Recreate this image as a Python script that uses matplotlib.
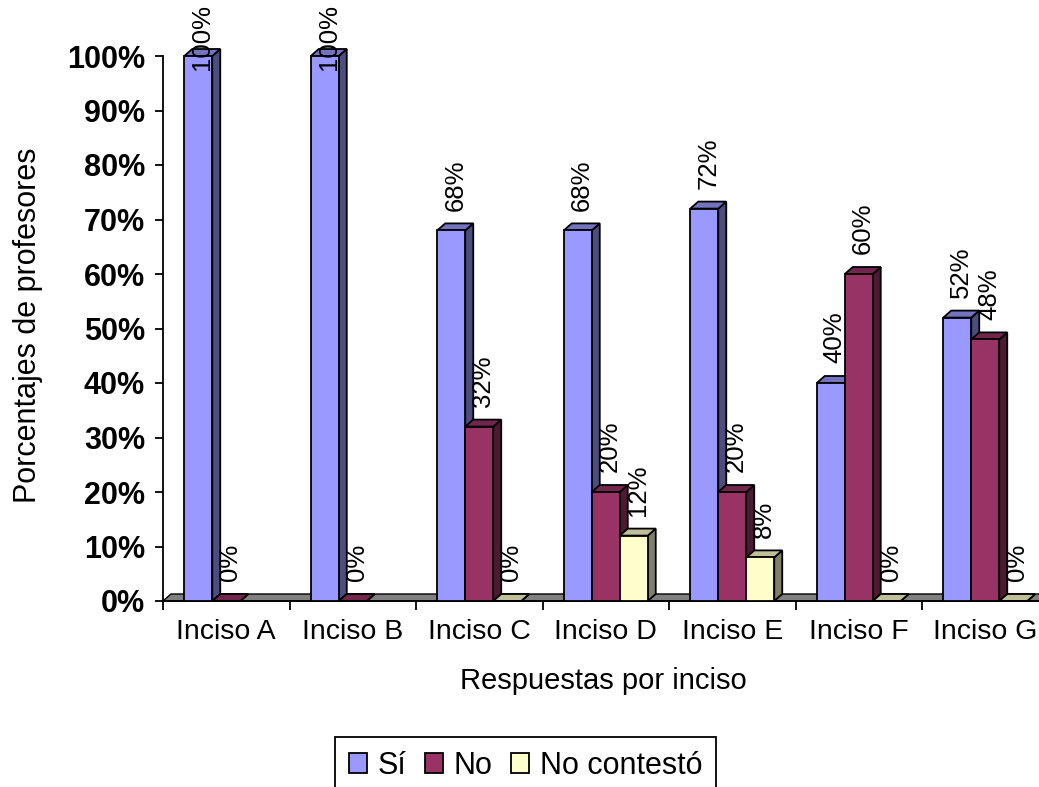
import numpy as np
import matplotlib
matplotlib.use('Agg')
import matplotlib.pyplot as plt
from matplotlib.patches import Polygon, Patch

plt.rcParams['font.family'] = ['Liberation Sans', 'DejaVu Sans']

categories = ['Inciso A', 'Inciso B', 'Inciso C', 'Inciso D', 'Inciso E', 'Inciso F', 'Inciso G']
series_names = ['Sí', 'No', 'No contestó']
si = [100, 100, 68, 68, 72, 40, 52]
no = [0, 0, 32, 20, 20, 60, 48]
no_contesto = [None, None, 0, 12, 8, 0, 0]

front_colors = ['#9999FF', '#993366', '#FFFFCC']


def shade(hex_color, f):
    c = np.array(matplotlib.colors.to_rgb(hex_color)) * f
    return tuple(c)


W, H = 1039, 787
fig = plt.figure(figsize=(W / 100, H / 100), dpi=100)
ax_l, ax_b, ax_w, ax_h = 163, 186, 885.5, 545
ax = fig.add_axes([ax_l / W, ax_b / H, ax_w / W, ax_h / H])
n = len(categories)
ax.set_xlim(0, n)
ax.set_ylim(0, 100)

# depth of the 3d effect, in pixels, turned into data units
dx = 8 / (ax_w / n)
dy = 7 / (ax_h / 100)
bw = 0.2213
x0 = (1 - 3 * bw) / 2

# floor
floor = Polygon([(0, 0), (n, 0), (n + dx, dy), (dx, dy)], closed=True,
                facecolor='#808080', edgecolor='black', lw=1.0, clip_on=False, zorder=1)
ax.add_patch(floor)


def bar3d(x, v, color):
    lw = 1.3
    side = [(x + bw, 0), (x + bw + dx, dy), (x + bw + dx, v + dy), (x + bw, v)]
    top = [(x, v), (x + bw, v), (x + bw + dx, v + dy), (x + dx, v + dy)]
    front = [(x, 0), (x + bw, 0), (x + bw, v), (x, v)]
    for pts, f in ((side, 0.5), (top, 0.75), (front, 1.0)):
        ax.add_patch(Polygon(pts, closed=True, facecolor=shade(color, f),
                             edgecolor='black', lw=lw, joinstyle='miter',
                             clip_on=False, zorder=3))


all_series = [si, no, no_contesto]
for i in range(n):
    for j, vals in enumerate(all_series):
        v = vals[i]
        if v is None:
            continue
        x = i + x0 + j * bw
        bar3d(x, v, front_colors[j])
        ypos = min(v + 3.6, 97.5)
        ax.text(x + bw / 2 + dx / 2, ypos, f'{v}%', rotation=90, ha='center', va='bottom',
                fontsize=18.5, clip_on=False, zorder=5)

for s in ['top', 'right']:
    ax.spines[s].set_visible(False)
ax.spines['left'].set_linewidth(1.3)
ax.spines['bottom'].set_linewidth(1.3)
ax.spines['bottom'].set_zorder(2)

yt = list(range(0, 101, 10))
ax.set_yticks(yt)
ax.set_yticklabels([f'{t}%' for t in yt], fontsize=22, fontweight='bold')
ax.tick_params(axis='y', direction='out', length=6, width=1.3, pad=7)

ax.set_xticks(np.arange(n + 1))
ax.set_xticklabels([])
ax.tick_params(axis='x', which='major', direction='out', length=6.5, width=1.3)
ax.set_xticks(np.arange(n) + 0.5, minor=True)
ax.set_xticklabels(categories, minor=True, fontsize=20.5)
ax.tick_params(axis='x', which='minor', length=0, pad=13)

fig.text(28 / W, 1 - 325 / H, 'Porcentajes de profesores', rotation=90,
         ha='center', va='center', fontsize=22)
fig.text(603 / W, 1 - 681 / H, 'Respuestas por inciso', ha='center', va='center', fontsize=21)

handles = [Patch(facecolor=c, edgecolor='black', lw=1.3) for c in front_colors]
leg = fig.legend(handles, series_names, loc='upper center',
                 bbox_to_anchor=(525.5 / W, 1 - 737 / H), ncol=3, fontsize=22,
                 frameon=True, fancybox=False, edgecolor='black', framealpha=1,
                 handlelength=0.6, handleheight=0.6, handletextpad=0.35,
                 columnspacing=0.6, borderpad=0.45, borderaxespad=0)
leg.get_frame().set_linewidth(1.3)

fig.savefig('out.png', dpi=100)
